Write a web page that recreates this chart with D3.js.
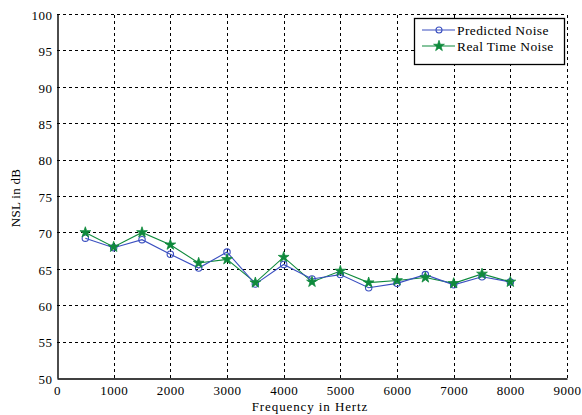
<!DOCTYPE html>
<html>
<head>
<meta charset="utf-8">
<script src="https://cdn.jsdelivr.net/npm/d3@7"></script>
<style>
  html, body { margin: 0; padding: 0; background: #fff; }
  svg text { font-family: "Liberation Serif", "DejaVu Serif", serif !important; }
</style>
</head>
<body>
<svg id="chart" width="582" height="415"></svg>
<script>
// Frequencies (Hz) at which noise level was sampled
const frequencies = [500, 1000, 1500, 2000, 2500, 3000, 3500, 4000, 4500, 5000, 5500, 6000, 6500, 7000, 7500, 8000];
// Predicted noise level (dB)
const predictedNoise = [69.2, 67.9, 69.0, 67.0, 65.1, 67.3, 62.9, 65.6, 63.6, 64.2, 62.4, 63.0, 64.2, 62.8, 63.9, 63.2];
// Measured real-time noise level (dB)
const realTimeNoise = [70.0, 68.0, 70.0, 68.3, 65.8, 66.3, 63.1, 66.6, 63.2, 64.7, 63.1, 63.4, 63.8, 63.0, 64.3, 63.2];

const xTicks = [0, 1000, 2000, 3000, 4000, 5000, 6000, 7000, 8000, 9000];
const yTicks = [50, 55, 60, 65, 70, 75, 80, 85, 90, 95, 100];

const seriesNames = ["Predicted Noise", "Real Time Noise"];
const seriesColors = ["#3a4fc0", "#0f8a3c"];

const FONT = "Liberation Serif, DejaVu Serif, serif";
const FS = 13;
const svg = d3.select("#chart").attr("font-family", FONT);
const m = { left: 57, top: 14, right: 567, bottom: 378 };

const x = d3.scaleLinear().domain([0, 9000]).range([m.left, m.right]);
const y = d3.scaleLinear().domain([50, 100]).range([m.bottom, m.top]);

// Dashed grid
const grid = svg.append("g").attr("stroke", "#000").attr("stroke-width", 1)
  .attr("stroke-dasharray", "3,3").attr("shape-rendering", "crispEdges");
grid.selectAll("line.v").data(xTicks.slice(1)).join("line")
  .attr("x1", d => Math.round(x(d)) + 0.5).attr("x2", d => Math.round(x(d)) + 0.5)
  .attr("y1", m.bottom).attr("y2", m.top);
grid.selectAll("line.h").data(yTicks.slice(1)).join("line")
  .attr("x1", m.left).attr("x2", m.right)
  .attr("y1", d => Math.round(y(d)) + 0.5).attr("y2", d => Math.round(y(d)) + 0.5);

// Axes (solid left and bottom lines)
const xAxis = d3.axisBottom(x).tickValues(xTicks).tickSize(0).tickPadding(6).tickFormat(d3.format("d"));
const yAxis = d3.axisLeft(y).tickValues(yTicks).tickSize(0).tickPadding(5).tickFormat(d3.format("d"));

const gx = svg.append("g").attr("transform", `translate(0,${m.bottom + 0.5})`).call(xAxis);
const gy = svg.append("g").attr("transform", `translate(${m.left + 0.5},0)`).call(yAxis);
[gx, gy].forEach(g => {
  g.attr("font-family", FONT).attr("font-size", FS);
  g.select(".domain").attr("stroke", "#000").attr("stroke-width", 1.4);
  g.selectAll("text").attr("fill", "#000").attr("letter-spacing", 0.5);
});
gx.selectAll("text").attr("dy", "0.78em");
gy.selectAll("text").attr("dy", "0.4em");

// Axis titles
svg.append("text").attr("x", (m.left + m.right) / 2 - 2).attr("y", 411)
  .attr("text-anchor", "middle").attr("font-size", FS).attr("letter-spacing", 0.9)
  .text("Frequency in Hertz");
svg.append("text")
  .attr("transform", `translate(20,${(m.top + m.bottom) / 2 + 2}) rotate(-90)`)
  .attr("text-anchor", "middle").attr("font-size", FS).attr("letter-spacing", 0.3)
  .text("NSL in dB");

// Lines
const line = d3.line().x((d, i) => x(frequencies[i])).y(d => y(d));

svg.append("path").datum(realTimeNoise).attr("d", line)
  .attr("fill", "none").attr("stroke", seriesColors[1]).attr("stroke-width", 1.1);
svg.append("path").datum(predictedNoise).attr("d", line)
  .attr("fill", "none").attr("stroke", seriesColors[0]).attr("stroke-width", 1.1);

// Markers
const star = d3.symbol().type(d3.symbolStar).size(36);
svg.append("g").selectAll("circle").data(predictedNoise).join("circle")
  .attr("cx", (d, i) => x(frequencies[i])).attr("cy", d => y(d)).attr("r", 3.2)
  .attr("fill", "none").attr("stroke", seriesColors[0]).attr("stroke-width", 1.1);
svg.append("g").selectAll("path").data(realTimeNoise).join("path")
  .attr("d", star)
  .attr("transform", (d, i) => `translate(${x(frequencies[i])},${y(d)})`)
  .attr("fill", seriesColors[1]).attr("stroke", seriesColors[1]).attr("stroke-width", 0.8);

// Legend
const lg = svg.append("g").attr("transform", "translate(414,18)");
lg.append("rect").attr("x", 0.5).attr("y", 0.5).attr("width", 150).attr("height", 46)
  .attr("fill", "#fff").attr("stroke", "#000").attr("stroke-width", 1.3);
seriesNames.forEach((name, i) => {
  const cy = 12 + i * 16;
  lg.append("line").attr("x1", 8).attr("x2", 41).attr("y1", cy).attr("y2", cy)
    .attr("stroke", seriesColors[i]).attr("stroke-width", 1.1);
  if (i === 0) {
    lg.append("circle").attr("cx", 25).attr("cy", cy).attr("r", 3)
      .attr("fill", "none").attr("stroke", seriesColors[0]).attr("stroke-width", 1.1);
  } else {
    lg.append("path").attr("d", star).attr("transform", `translate(25,${cy})`)
      .attr("fill", seriesColors[1]).attr("stroke", seriesColors[1]).attr("stroke-width", 0.8);
  }
  lg.append("text").attr("x", 43).attr("y", cy + 5).attr("font-size", 13.5)
    .attr("letter-spacing", 0.4).text(name);
});
</script>
</body>
</html>
